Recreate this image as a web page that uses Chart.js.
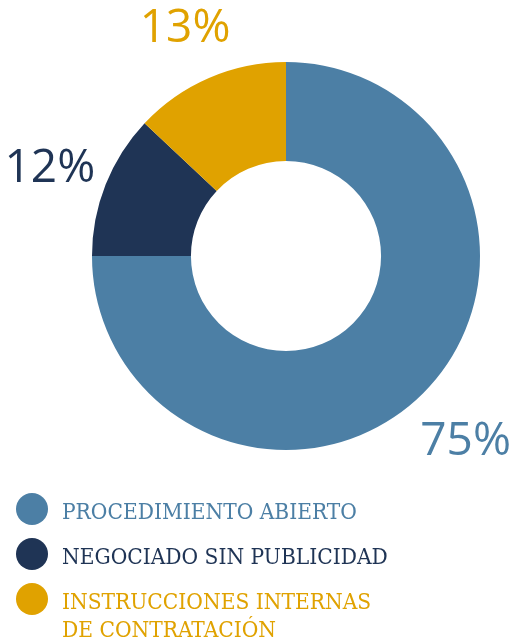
<!DOCTYPE html>
<html>
<head>
<meta charset="utf-8">
<script src="https://cdn.jsdelivr.net/npm/chart.js@4.4.1/dist/chart.umd.min.js"></script>
<style>
  body { margin: 0; background: #fff; }
  #wrap { position: relative; width: 513px; height: 643px; }
  #legend { position: absolute; left: 16px; top: 497px; width: 480px;
            font-family: "DejaVu Serif Condensed", "DejaVu Serif", serif; font-size: 22.5px; }
  .item { position: relative; padding-left: 46px; line-height: 28px; margin-bottom: 17px; white-space: nowrap; }
  .dot { position: absolute; left: 0; top: -4px; width: 32px; height: 32px; border-radius: 50%; }
</style>
</head>
<body>
<div id="wrap">
  <canvas id="modalidadChart" width="513" height="643"></canvas>
  <div id="legend"></div>
</div>
<script>
var labels = ["PROCEDIMIENTO ABIERTO", "NEGOCIADO SIN PUBLICIDAD", ["INSTRUCCIONES INTERNAS", "DE CONTRATACIÓN"]];
var values = [75, 12, 13];
var colors = ["#4c7fa5", "#1f3455", "#e0a200"];

// porcentajes fuera del anillo, en la dirección media de cada sector
var pctLabels = {
    id: "pctLabels",
    afterDatasetsDraw: function (chart) {
        var ctx = chart.ctx;
        var arcs = chart.getDatasetMeta(0).data;
        ctx.save();
        ctx.font = "46px 'Open Sans', sans-serif";
        ctx.textAlign = "center";
        ctx.textBaseline = "middle";
        arcs.forEach(function (arc, i) {
            var mid = (arc.startAngle + arc.endAngle) / 2;
            var r = arc.outerRadius + 60;
            ctx.fillStyle = colors[i];
            ctx.fillText(values[i] + "%", arc.x + Math.cos(mid) * r, arc.y + Math.sin(mid) * r + 6);
        });
        ctx.restore();
    }
};

var ctx1 = document.getElementById("modalidadChart");
var modalidadChart = new Chart(ctx1, {
    type: "doughnut",
    data: {
        labels: labels,
        datasets: [
            {
                data: values,
                backgroundColor: colors,
                borderWidth: 0
            }
        ]
    },
    options: {
        responsive: false,
        animation: false,
        cutout: "49%",
        layout: {
            padding: { left: 92, right: 33, top: 62, bottom: 193 }
        },
        plugins: {
            legend: { display: false },
            tooltip: { enabled: false }
        }
    },
    plugins: [pctLabels]
});

var legend = document.getElementById("legend");
labels.forEach(function (l, i) {
    var d = document.createElement("div");
    d.className = "item";
    d.style.color = colors[i];
    var text = Array.isArray(l) ? l.join("<br>") : l;
    d.innerHTML = '<span class="dot" style="background:' + colors[i] + '"></span>' + text;
    legend.appendChild(d);
});
</script>
</body>
</html>
